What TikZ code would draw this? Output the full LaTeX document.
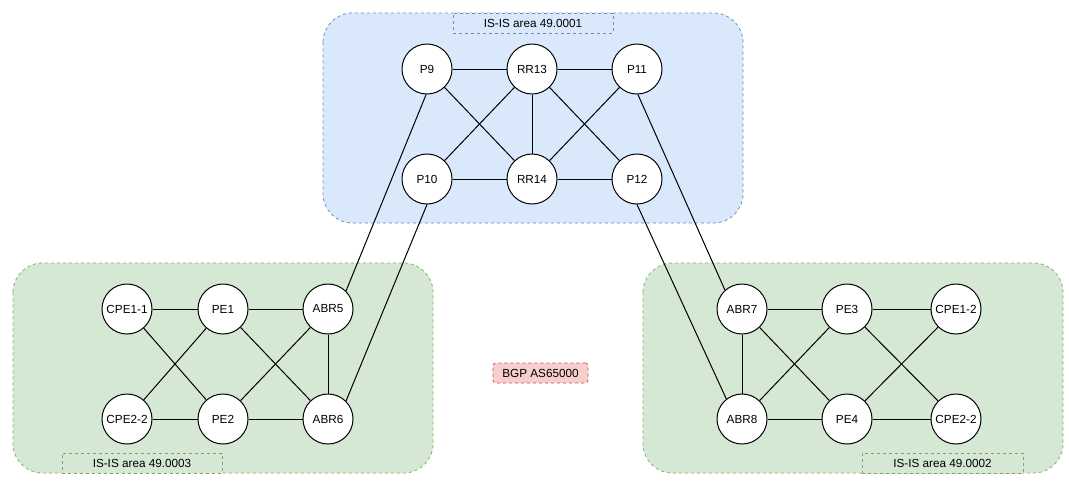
\documentclass[tikz,border=0pt]{standalone}
\usepackage{fontspec}
\setmainfont{Liberation Sans}
\usepackage{xcolor}
\usepackage{tikz}
\usetikzlibrary{positioning}
\definecolor{bluefill}{HTML}{DAE8FC}
\definecolor{blueline}{HTML}{6C8EBF}
\definecolor{greenfill}{HTML}{D5E8D4}
\definecolor{greenline}{HTML}{82B366}
\definecolor{redfill}{HTML}{F8CECC}
\definecolor{redline}{HTML}{B85450}

\begin{document}
\begin{tikzpicture}[x=0.75pt, y=-0.75pt, on grid, node distance={82.5pt and 78.75pt},
    main/.style = {draw, circle, fill=white, minimum size=37.5pt, inner sep=0pt, line width=0.75pt, font=\fontsize{8.8}{10}\selectfont},
    area/.style = {draw, dash pattern=on 2.25pt off 2.25pt, rounded corners=22pt, line width=0.6pt},
    tag/.style = {draw, dash pattern=on 2.25pt off 2.25pt, rectangle, minimum height=15pt, inner sep=0pt, line width=0.5pt, font=\fontsize{8.8}{10}\selectfont},
    link/.style = {line width=0.75pt}]
    \useasboundingbox (0,0) rectangle (1069,487);
    % areas
    \draw[area, fill=bluefill, draw=blueline] (323,13) rectangle (743,223);
    \draw[area, fill=greenfill, draw=greenline] (13,263) rectangle (433,473);
    \draw[area, fill=greenfill, draw=greenline] (643,263) rectangle (1063,473);
    \node[tag, fill=bluefill, draw=blueline, minimum width=120pt] (tag1) at (533,23) {IS-IS area 49.0001};
    \node[tag, fill=greenfill, draw=greenline!70!gray, minimum width=120pt] (tag3) at (142,463) {IS-IS area 49.0003};
    \node[tag, fill=greenfill, draw=greenline!70!gray, minimum width=120.75pt] (tag2) at (942.5,463) {IS-IS area 49.0002};
    \node[tag, fill=redfill, draw=redline, minimum width=71.25pt, rounded corners=2pt] (bgp) at (540.5,373) {BGP AS65000};
    % backbone
    \node[main] (P9) at (427,69) {P9};
    \node[main] (RR13) [right =of P9] {RR13};
    \node[main] (P11) [right =of RR13] {P11};
    \node[main] (P10) [below =of P9] {P10};
    \node[main] (RR14) [right =of P10] {RR14};
    \node[main] (P12) [right =of RR14] {P12};
    % area 49.0003
    \node[main] (CPE11) at (127,309) {CPE1-1};
    \node[main] (PE1) [right =72pt of CPE11] {PE1};
    \node[main] (ABR5) [right =of PE1] {ABR5};
    \node[main] (CPE22a) [below =of CPE11] {CPE2-2};
    \node[main] (PE2) [right =72pt of CPE22a] {PE2};
    \node[main] (ABR6) [right =of PE2] {ABR6};
    % area 49.0002
    \node[main] (ABR7) at (742,309) {ABR7};
    \node[main] (PE3) [right =of ABR7] {PE3};
    \node[main] (CPE12) [right =81.75pt of PE3] {CPE1-2};
    \node[main] (ABR8) [below =of ABR7] {ABR8};
    \node[main] (PE4) [right =of ABR8] {PE4};
    \node[main] (CPE22b) [right =81.75pt of PE4] {CPE2-2};
    % links
    \draw[link] (P9) -- (RR13);
    \draw[link] (RR13) -- (P11);
    \draw[link] (P10) -- (RR14);
    \draw[link] (RR14) -- (P12);
    \draw[link] (RR13) -- (RR14);
    \draw[link] (P9) -- (RR14);
    \draw[link] (RR13) -- (P10);
    \draw[link] (RR13) -- (P12);
    \draw[link] (P11) -- (RR14);
    \draw[link] (P9.-92) -- (ABR5.45);
    \draw[link] (P10.-90) -- (ABR6.45);
    \draw[link] (P11.-88) -- (ABR7.132);
    \draw[link] (P12.-90) -- (ABR8.128);
    \draw[link] (CPE11) -- (PE1);
    \draw[link] (PE1) -- (ABR5);
    \draw[link] (CPE22a) -- (PE2);
    \draw[link] (PE2) -- (ABR6);
    \draw[link] (ABR5) -- (ABR6);
    \draw[link] (CPE11) -- (PE2);
    \draw[link] (CPE22a) -- (PE1);
    \draw[link] (PE1) -- (ABR6);
    \draw[link] (PE2) -- (ABR5);
    \draw[link] (ABR7) -- (PE3);
    \draw[link] (PE3) -- (CPE12);
    \draw[link] (ABR8) -- (PE4);
    \draw[link] (PE4) -- (CPE22b);
    \draw[link] (ABR7) -- (ABR8);
    \draw[link] (ABR7) -- (PE4);
    \draw[link] (ABR8) -- (PE3);
    \draw[link] (PE3) -- (CPE22b);
    \draw[link] (PE4) -- (CPE12);
\end{tikzpicture}
\end{document}
